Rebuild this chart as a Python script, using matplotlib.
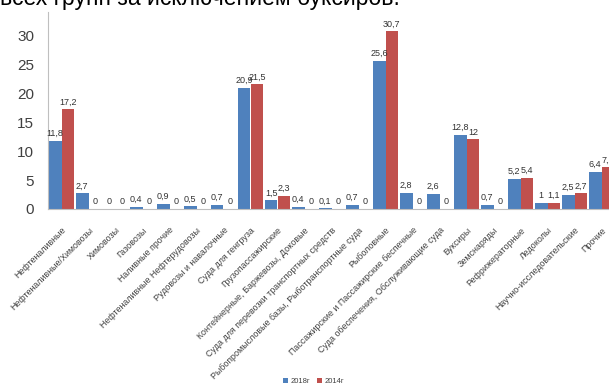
import matplotlib
matplotlib.use("Agg")
import matplotlib.pyplot as plt
import numpy as np

plt.rcParams['font.family'] = ['Liberation Sans', 'DejaVu Sans']

categories = [
    "Нефтеналивные",
    "Нефтеналивные/Химовозы",
    "Химовозы",
    "Газовозы",
    "Наливные прочие",
    "Нефтеналивные Нефтерудовозы",
    "Рудовозы и навалочные",
    "Суда для генгруза",
    "Грузопассажирские",
    "Контейнерные, Баржевозы, Доковые",
    "Суда для перевозки транспортных средств",
    "Рыбопромысловые базы, Рыботранспортные суда",
    "Рыболовные",
    "Пассажирские и Пассажирские беспечные",
    "Суда обеспечения, Обслуживающие суда",
    "Буксиры",
    "Земснаряды",
    "Рефрижераторные",
    "Ледоколы",
    "Научно-исследовательские",
    "Прочие",
]
values_2018 = [11.8, 2.7, 0, 0.4, 0.9, 0.5, 0.7, 20.9, 1.5, 0.4, 0.1, 0.7,
               25.6, 2.8, 2.6, 12.8, 0.7, 5.2, 1, 2.5, 6.4]
values_2014 = [17.2, 0, 0, 0, 0, 0, 0, 21.5, 2.3, 0, 0, 0,
               30.7, 0, 0, 12, 0, 5.4, 1.1, 2.7, 7.2]
series_names = ["2018г", "2014г"]
y_ticks = [0, 5, 10, 15, 20, 25, 30]

blue = "#4F81BD"
red = "#C0504D"

fig = plt.figure(figsize=(6.09, 3.92), dpi=100)
ax = fig.add_axes([48 / 609, 1 - 209 / 392, 567 / 609, 197 / 392])

x = np.arange(len(categories))
w = 0.47
b1 = ax.bar(x - w / 2, values_2018, w, color=blue, label=series_names[0])
b2 = ax.bar(x + w / 2, values_2014, w, color=red, label=series_names[1])

def fmt(v):
    s = f"{v:g}"
    return s.replace(".", ",")

for bars, vals in ((b1, values_2018), (b2, values_2014)):
    for rect, v in zip(bars, vals):
        ax.annotate(fmt(v), (rect.get_x() + rect.get_width() / 2, v),
                    xytext=(0, 2), textcoords="offset points",
                    ha="center", va="bottom", fontsize=6.5, color="#333333")

ax.set_xlim(-0.5, len(categories) - 0.5)
ax.set_ylim(0, 34)
ax.set_yticks(y_ticks)
ax.set_yticklabels([str(t) for t in y_ticks], fontsize=11, color="#404040")
ax.tick_params(axis="y", length=0, pad=10)
ax.set_xticks(x)
ax.set_xticklabels(categories, rotation=45, ha="right", rotation_mode="anchor",
                   fontsize=6.4, color="#404040")
ax.tick_params(axis="x", length=0, pad=12)

for side in ("top", "right"):
    ax.spines[side].set_visible(False)
ax.spines["left"].set_color("#BFBFBF")
ax.spines["bottom"].set_color("#BFBFBF")
ax.spines["left"].set_linewidth(0.8)
ax.spines["bottom"].set_linewidth(0.8)

fig.text(0.0, 1 - 5 / 392, "всех групп за исключением буксиров.",
         fontsize=16.5, color="black", ha="left", va="baseline")

fig.legend(handles=[b1, b2], labels=series_names, loc="lower center",
           bbox_to_anchor=(0.515, 0.0), ncol=2, frameon=False, fontsize=5.5,
           handlelength=0.6, handleheight=0.6, handletextpad=0.3,
           columnspacing=1.0, labelcolor="#404040")

fig.savefig("out.png", dpi=100)
